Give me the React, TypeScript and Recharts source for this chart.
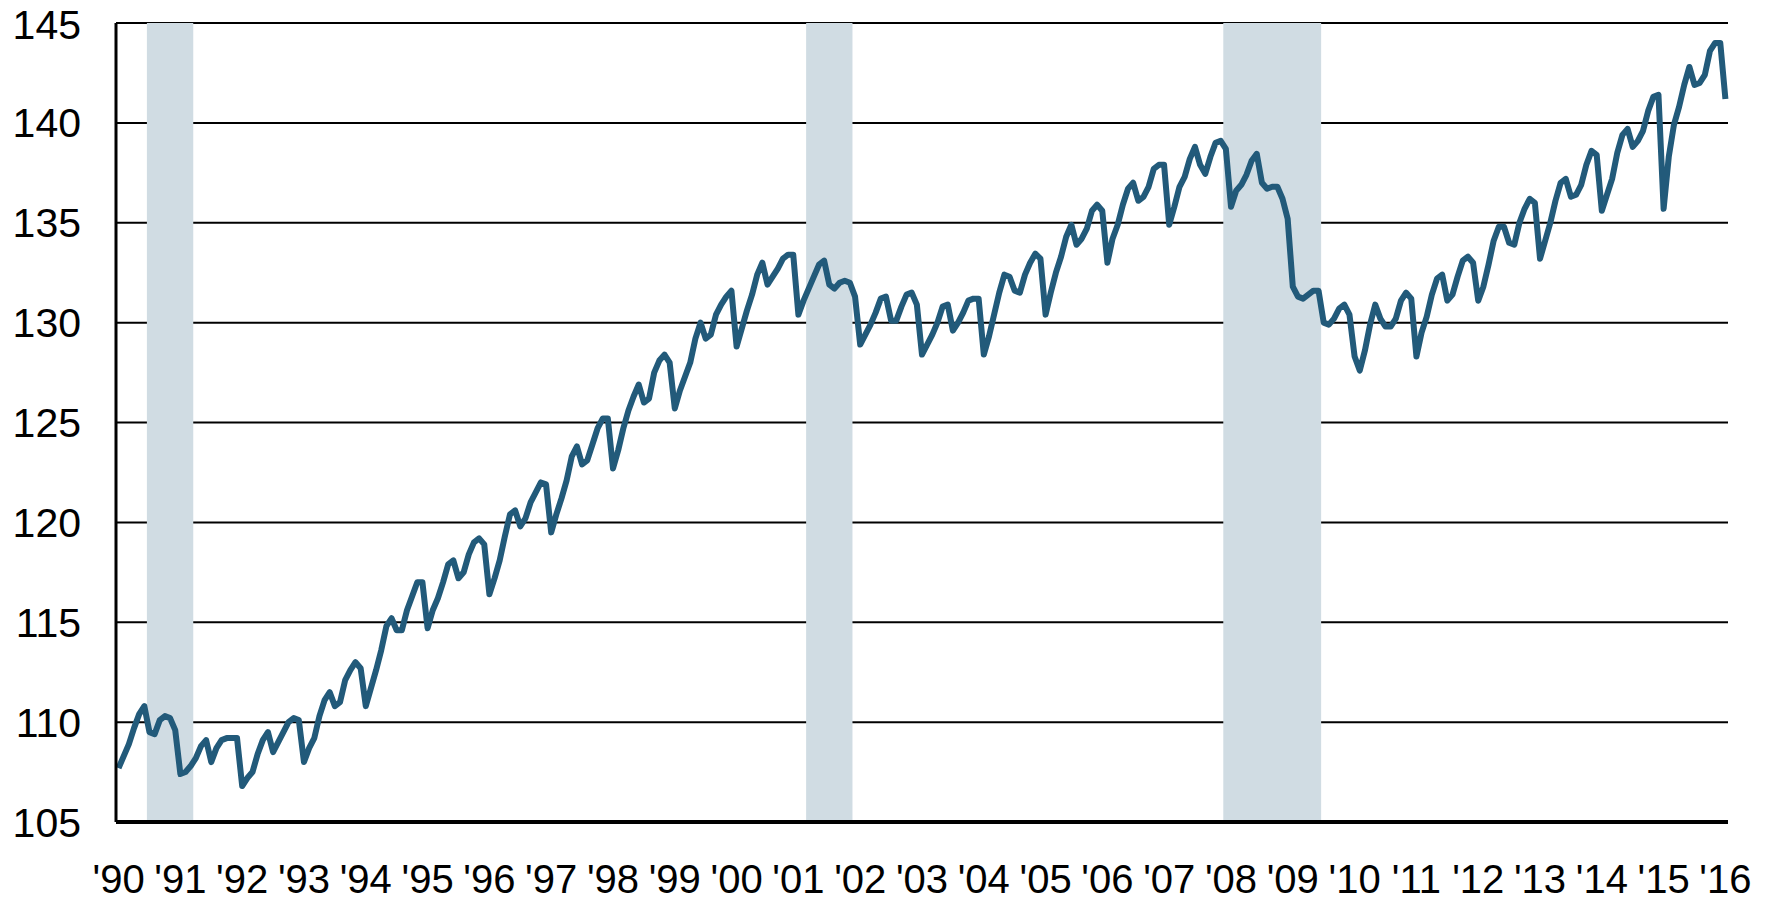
import React from 'react';
import { LineChart, Line, XAxis, YAxis, CartesianGrid, ReferenceArea } from 'recharts';

// monthly values, Jan..Dec
const y1990 = [107.7, 108.3, 108.9, 109.7, 110.4, 110.8, 109.5, 109.4, 110.1, 110.3, 110.2, 109.6];
const y1991 = [107.4, 107.5, 107.8, 108.2, 108.8, 109.1, 108.0, 108.7, 109.1, 109.2, 109.2, 109.2];
const y1992 = [106.8, 107.2, 107.5, 108.4, 109.1, 109.5, 108.5, 109.0, 109.5, 110.0, 110.2, 110.1];
const y1993 = [108.0, 108.7, 109.2, 110.3, 111.1, 111.5, 110.8, 111.0, 112.1, 112.6, 113.0, 112.7];
const y1994 = [110.8, 111.7, 112.6, 113.6, 114.8, 115.2, 114.6, 114.6, 115.6, 116.3, 117.0, 117.0];
const y1995 = [114.7, 115.6, 116.2, 117.0, 117.9, 118.1, 117.2, 117.5, 118.4, 119.0, 119.2, 118.9];
const y1996 = [116.4, 117.2, 118.1, 119.3, 120.4, 120.6, 119.8, 120.2, 121.0, 121.5, 122.0, 121.9];
const y1997 = [119.5, 120.4, 121.2, 122.1, 123.3, 123.8, 122.9, 123.1, 123.9, 124.7, 125.2, 125.2];
const y1998 = [122.7, 123.6, 124.7, 125.6, 126.3, 126.9, 126.0, 126.2, 127.5, 128.1, 128.4, 128.0];
const y1999 = [125.7, 126.6, 127.3, 128.0, 129.2, 130.0, 129.2, 129.4, 130.4, 130.9, 131.3, 131.6];
const y2000 = [128.8, 129.7, 130.6, 131.4, 132.4, 133.0, 131.9, 132.3, 132.7, 133.2, 133.4, 133.4];
const y2001 = [130.4, 131.1, 131.7, 132.3, 132.9, 133.1, 131.9, 131.7, 132.0, 132.1, 132.0, 131.3];
const y2002 = [128.9, 129.4, 129.9, 130.5, 131.2, 131.3, 130.1, 130.1, 130.8, 131.4, 131.5, 130.9];
const y2003 = [128.4, 128.9, 129.4, 130.0, 130.8, 130.9, 129.6, 130.0, 130.5, 131.1, 131.2, 131.2];
const y2004 = [128.4, 129.3, 130.4, 131.5, 132.4, 132.3, 131.6, 131.5, 132.4, 133.0, 133.45, 133.2];
const y2005 = [130.4, 131.5, 132.5, 133.3, 134.3, 134.9, 133.9, 134.2, 134.7, 135.6, 135.9, 135.6];
const y2006 = [133.0, 134.2, 134.9, 135.9, 136.7, 137.0, 136.1, 136.3, 136.8, 137.7, 137.9, 137.9];
const y2007 = [134.9, 135.8, 136.8, 137.3, 138.2, 138.8, 137.9, 137.45, 138.3, 139.0, 139.1, 138.7];
const y2008 = [135.8, 136.6, 136.9, 137.4, 138.1, 138.45, 137.0, 136.7, 136.8, 136.8, 136.2, 135.2];
const y2009 = [131.8, 131.3, 131.2, 131.4, 131.6, 131.6, 130.0, 129.9, 130.2, 130.7, 130.9, 130.4];
const y2010 = [128.3, 127.6, 128.6, 129.9, 130.9, 130.2, 129.8, 129.8, 130.2, 131.1, 131.5, 131.2];
const y2011 = [128.3, 129.5, 130.3, 131.4, 132.2, 132.4, 131.1, 131.4, 132.3, 133.1, 133.3, 133.0];
const y2012 = [131.1, 131.8, 132.9, 134.1, 134.8, 134.8, 134.0, 133.9, 135.0, 135.7, 136.2, 136.0];
const y2013 = [133.2, 134.1, 135.0, 136.1, 137.0, 137.2, 136.3, 136.4, 136.9, 137.9, 138.6, 138.4];
const y2014 = [135.6, 136.4, 137.2, 138.5, 139.4, 139.7, 138.8, 139.1, 139.6, 140.6, 141.3, 141.4];
const y2015 = [135.7, 138.3, 139.9, 140.8, 141.9, 142.8, 141.9, 142.0, 142.4, 143.6, 144.0, 144.0];
const y2016 = [141.2];

const years = [
  y1990, y1991, y1992, y1993, y1994, y1995, y1996, y1997, y1998, y1999,
  y2000, y2001, y2002, y2003, y2004, y2005, y2006, y2007, y2008, y2009,
  y2010, y2011, y2012, y2013, y2014, y2015, y2016,
];
const yearLabels = [
  "'90", "'91", "'92", "'93", "'94", "'95", "'96", "'97", "'98", "'99",
  "'00", "'01", "'02", "'03", "'04", "'05", "'06", "'07", "'08", "'09",
  "'10", "'11", "'12", "'13", "'14", "'15", "'16",
];
const yTicks = [105, 110, 115, 120, 125, 130, 135, 140, 145];

// recessions as [start, end] month, counted from Jan 1990
const recessions = [
  [6, 14],
  [134, 142],
  [215, 233],
];

const data = years.flat().map((v, i) => ({ m: i, v }));
const xTicks = yearLabels.map((_, i) => i * 12);
const lastM = data.length - 1;

const FONT = '"Liberation Sans", Arial, sans-serif';

export default function App() {
  return (
    <div style={{ position: 'absolute', left: 0, top: 0, background: '#fff' }}>
      <LineChart
        width={1771}
        height={902}
        data={data}
        margin={{ top: 23, right: 43, bottom: 0, left: 0 }}
      >
        <CartesianGrid horizontal vertical={false} stroke="#000" strokeWidth={2} />
        {recessions.map(([a, b], i) => (
          <ReferenceArea
            key={i}
            x1={a - 0.5}
            x2={b + 0.5}
            y1={105}
            y2={145}
            fill="#D0DCE3"
            fillOpacity={1}
            stroke="none"
          />
        ))}
        <XAxis
          dataKey="m"
          type="number"
          domain={[-0.5, lastM + 0.5]}
          ticks={xTicks}
          tickFormatter={(m: number) => yearLabels[m / 12]}
          interval={0}
          height={80}
          tickLine={false}
          tickMargin={37}
          axisLine={{ stroke: '#000', strokeWidth: 4 }}
          tick={{ fill: '#000', fontSize: 40, fontFamily: FONT }}
        />
        <YAxis
          domain={[105, 145]}
          ticks={yTicks}
          width={116}
          tickLine={false}
          tickMargin={29}
          axisLine={{ stroke: '#000', strokeWidth: 3 }}
          tick={{ fill: '#000', fontSize: 41, fontFamily: FONT }}
        />
        <Line
          type="linear"
          dataKey="v"
          stroke="#225A7A"
          strokeWidth={6}
          strokeLinejoin="round"
          dot={false}
          isAnimationActive={false}
        />
      </LineChart>
    </div>
  );
}
